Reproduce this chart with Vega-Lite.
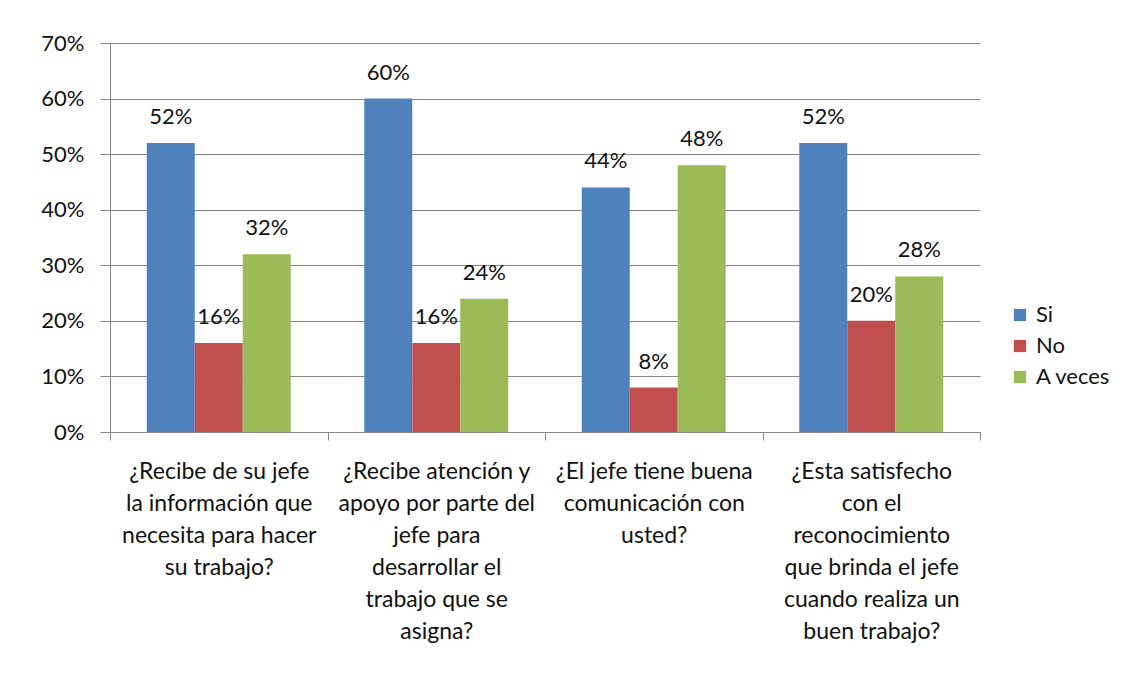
{
  "$schema": "https://vega.github.io/schema/vega-lite/v6.json",
  "width": 870,
  "height": 389,
  "autosize": {"type": "none"},
  "padding": {"left": 110, "top": 43, "right": 148, "bottom": 247},
  "background": "white",
  "config": {
    "font": "Lato",
    "view": {"stroke": null},
    "axis": {"labelFont": "Lato", "labelColor": "#111111", "domainColor": "#888888", "tickColor": "#888888", "gridColor": "#888888"}
  },
  "data": {
    "values": [
      {"pregunta": "¿Recibe de su jefe la información que necesita para hacer su trabajo?", "respuesta": "Si", "valor": 0.52},
      {"pregunta": "¿Recibe de su jefe la información que necesita para hacer su trabajo?", "respuesta": "No", "valor": 0.16},
      {"pregunta": "¿Recibe de su jefe la información que necesita para hacer su trabajo?", "respuesta": "A veces", "valor": 0.32},
      {"pregunta": "¿Recibe atención y apoyo por parte del jefe para desarrollar el trabajo que se asigna?", "respuesta": "Si", "valor": 0.60},
      {"pregunta": "¿Recibe atención y apoyo por parte del jefe para desarrollar el trabajo que se asigna?", "respuesta": "No", "valor": 0.16},
      {"pregunta": "¿Recibe atención y apoyo por parte del jefe para desarrollar el trabajo que se asigna?", "respuesta": "A veces", "valor": 0.24},
      {"pregunta": "¿El jefe tiene buena comunicación con usted?", "respuesta": "Si", "valor": 0.44},
      {"pregunta": "¿El jefe tiene buena comunicación con usted?", "respuesta": "No", "valor": 0.08},
      {"pregunta": "¿El jefe tiene buena comunicación con usted?", "respuesta": "A veces", "valor": 0.48},
      {"pregunta": "¿Esta satisfecho con el reconocimiento que brinda el jefe cuando realiza un buen trabajo?", "respuesta": "Si", "valor": 0.52},
      {"pregunta": "¿Esta satisfecho con el reconocimiento que brinda el jefe cuando realiza un buen trabajo?", "respuesta": "No", "valor": 0.20},
      {"pregunta": "¿Esta satisfecho con el reconocimiento que brinda el jefe cuando realiza un buen trabajo?", "respuesta": "A veces", "valor": 0.28}
    ]
  },
  "encoding": {
    "x": {
      "field": "pregunta", "type": "nominal", "sort": null, "title": null,
      "scale": {"paddingInner": 0, "paddingOuter": 0},
      "axis": {
        "labelAngle": 0, "tickBand": "extent", "tickSize": 8, "labelPadding": 20,
        "labelFontSize": 23, "labelLineHeight": 32, "labelBaseline": "top", "labelLimit": 0,
        "domainColor": "#888888",
        "labelExpr": "datum.label == '' ? '' : datum.value == '¿Recibe de su jefe la información que necesita para hacer su trabajo?' ? ['¿Recibe de su jefe', 'la información que', 'necesita para hacer', 'su trabajo?'] : datum.value == '¿Recibe atención y apoyo por parte del jefe para desarrollar el trabajo que se asigna?' ? ['¿Recibe atención y', 'apoyo por parte del', 'jefe para', 'desarrollar el', 'trabajo que se', 'asigna?'] : datum.value == '¿El jefe tiene buena comunicación con usted?' ? ['¿El jefe tiene buena', 'comunicación con', 'usted?'] : datum.value == '¿Esta satisfecho con el reconocimiento que brinda el jefe cuando realiza un buen trabajo?' ? ['¿Esta satisfecho', 'con el', 'reconocimiento', 'que brinda el jefe', 'cuando realiza un', 'buen trabajo?'] : ''"
      }
    },
    "xOffset": {"field": "respuesta", "type": "nominal", "sort": ["Si", "No", "A veces"], "scale": {"paddingInner": 0, "paddingOuter": 0.766}},
    "y": {
      "field": "valor", "type": "quantitative", "title": null,
      "scale": {"domain": [0, 0.7], "nice": false},
      "axis": {"format": ".0%", "values": [0, 0.1, 0.2, 0.3, 0.4, 0.5, 0.6, 0.7], "grid": true, "tickSize": 10, "labelPadding": 16, "labelFontSize": 22, "domainColor": "#888888"}
    }
  },
  "layer": [
    {
      "mark": {"type": "bar"},
      "encoding": {
        "color": {
          "field": "respuesta", "type": "nominal", "sort": ["Si", "No", "A veces"],
          "scale": {"domain": ["Si", "No", "A veces"], "range": ["#4F81BD", "#C0504D", "#9BBB59"]},
          "legend": {
            "title": null, "orient": "none", "legendX": 899, "legendY": 261,
            "symbolType": "square", "symbolSize": 150, "symbolStrokeWidth": 0,
            "labelFontSize": 22, "labelFont": "Lato", "labelColor": "#111111", "rowPadding": 9, "labelOffset": 5
          }
        }
      }
    },
    {
      "mark": {"type": "text", "baseline": "bottom", "dy": -14, "fontSize": 22, "font": "Lato", "color": "#111111"},
      "encoding": {
        "text": {"field": "valor", "type": "quantitative", "format": ".0%"}
      }
    }
  ]
}
